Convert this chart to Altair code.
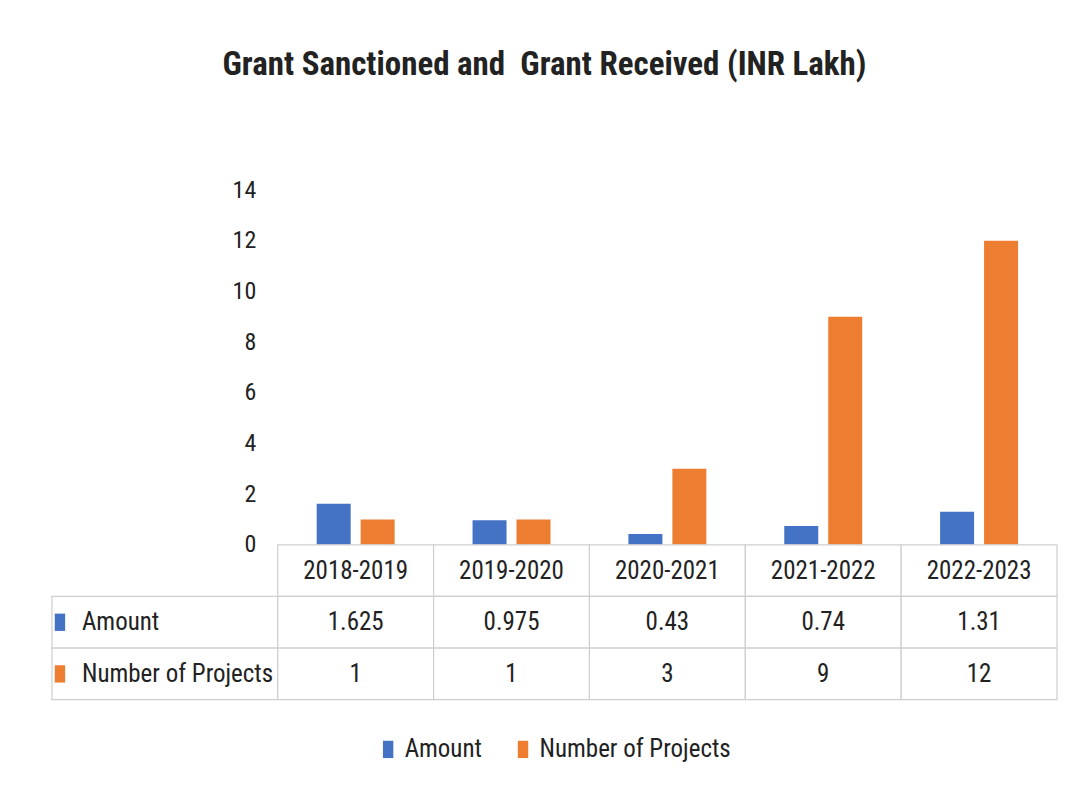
import altair as alt
import pandas as pd

years = ["2018-2019", "2019-2020", "2020-2021", "2021-2022", "2022-2023"]
amount = [1.625, 0.975, 0.43, 0.74, 1.31]
projects = [1, 1, 3, 9, 12]
series = ["Amount", "Number of Projects"]
colors = ["#4472C4", "#ED7D31"]
title_text = "Grant Sanctioned and\u00a0 Grant Received (INR Lakh)"

FONT = "Roboto Condensed, Open Sans Condensed, Liberation Sans Narrow, DejaVu Sans Condensed, sans-serif"
TXT = "#222222"
BORDER = "#cfcfcf"
MARKER = "M-0.6,-1 H0.6 V1 H-0.6 Z"

bars = pd.DataFrame(
    [{"year": y, "series": series[0], "value": a} for y, a in zip(years, amount)]
    + [{"year": y, "series": series[1], "value": p} for y, p in zip(years, projects)]
)

rows = ["header"] + series
cells = pd.DataFrame(
    [{"year": y, "row": "header", "label": y} for y in years]
    + [{"year": y, "row": series[0], "label": str(a)} for y, a in zip(years, amount)]
    + [{"year": y, "row": series[1], "label": str(p)} for y, p in zip(years, projects)]
)
row_labels = pd.DataFrame({"row": series, "series": series})

xscale = alt.Scale(domain=years, paddingInner=0, paddingOuter=0)
cscale = alt.Scale(domain=series, range=colors)
yrow = alt.Y("row:N", sort=rows, scale=alt.Scale(domain=rows, paddingInner=0, paddingOuter=0), axis=None)

bar_chart = alt.Chart(bars).mark_bar().encode(
    x=alt.X("year:N", sort=years, scale=xscale, axis=None),
    xOffset=alt.XOffset("series:N", sort=series,
                        scale=alt.Scale(domain=series, paddingInner=0.227, paddingOuter=0.886)),
    y=alt.Y("value:Q", scale=alt.Scale(domain=[0, 14], nice=False),
            axis=alt.Axis(values=list(range(0, 15, 2)), grid=False, domain=False, ticks=False,
                          labelPadding=22, labelFontSize=24, labelFont=FONT, labelColor=TXT,
                          title=None)),
    color=alt.Color("series:N", scale=cscale, legend=None),
).properties(width=780, height=355)

cell_rects = alt.Chart(cells).mark_rect(fill="white", stroke=BORDER, strokeWidth=1.2).encode(
    x=alt.X("year:N", sort=years, scale=xscale, axis=None),
    y=yrow,
)
cell_text = alt.Chart(cells).mark_text(font=FONT, fontSize=25, color=TXT, baseline="middle").encode(
    x=alt.X("year:N", sort=years, scale=xscale, axis=None),
    y=yrow,
    text="label:N",
)
label_rects = alt.Chart(row_labels).mark_rect(fill="white", stroke=BORDER, strokeWidth=1.2).encode(
    x=alt.value(-226), x2=alt.value(0), y=yrow,
)
label_text = alt.Chart(row_labels).mark_text(font=FONT, fontSize=25, color=TXT, align="left",
                                             baseline="middle").encode(
    x=alt.value(-196), y=yrow, text="row:N",
)
label_marks = alt.Chart(row_labels).mark_point(shape=MARKER, filled=True, size=300, opacity=1).encode(
    x=alt.value(-218), y=yrow,
    color=alt.Color("series:N", scale=cscale,
                    legend=alt.Legend(orient="none", legendX=98, legendY=192, direction="horizontal",
                                      title=None, symbolType=MARKER, symbolSize=300,
                                      symbolStrokeWidth=0, labelFont=FONT, labelFontSize=25,
                                      labelColor=TXT, labelOffset=4, columnPadding=28,
                                      labelLimit=400)),
)

table = alt.layer(label_rects, cell_rects, cell_text, label_text, label_marks).properties(
    width=780, height=155
)

chart = alt.vconcat(bar_chart, table, spacing=0, bounds="flush").resolve_scale(
    color="independent"
).resolve_legend(color="independent").properties(
    title=alt.TitleParams(title_text, font=FONT, fontSize=33, fontWeight="bold", color=TXT,
                          anchor="middle", dx=-10, offset=96),
    padding={"left": 43, "top": 41, "right": 10, "bottom": 10},
    background="white",
).configure_view(stroke=None)

chart.save("out.html", embed_options={"renderer": "svg", "actions": False})
